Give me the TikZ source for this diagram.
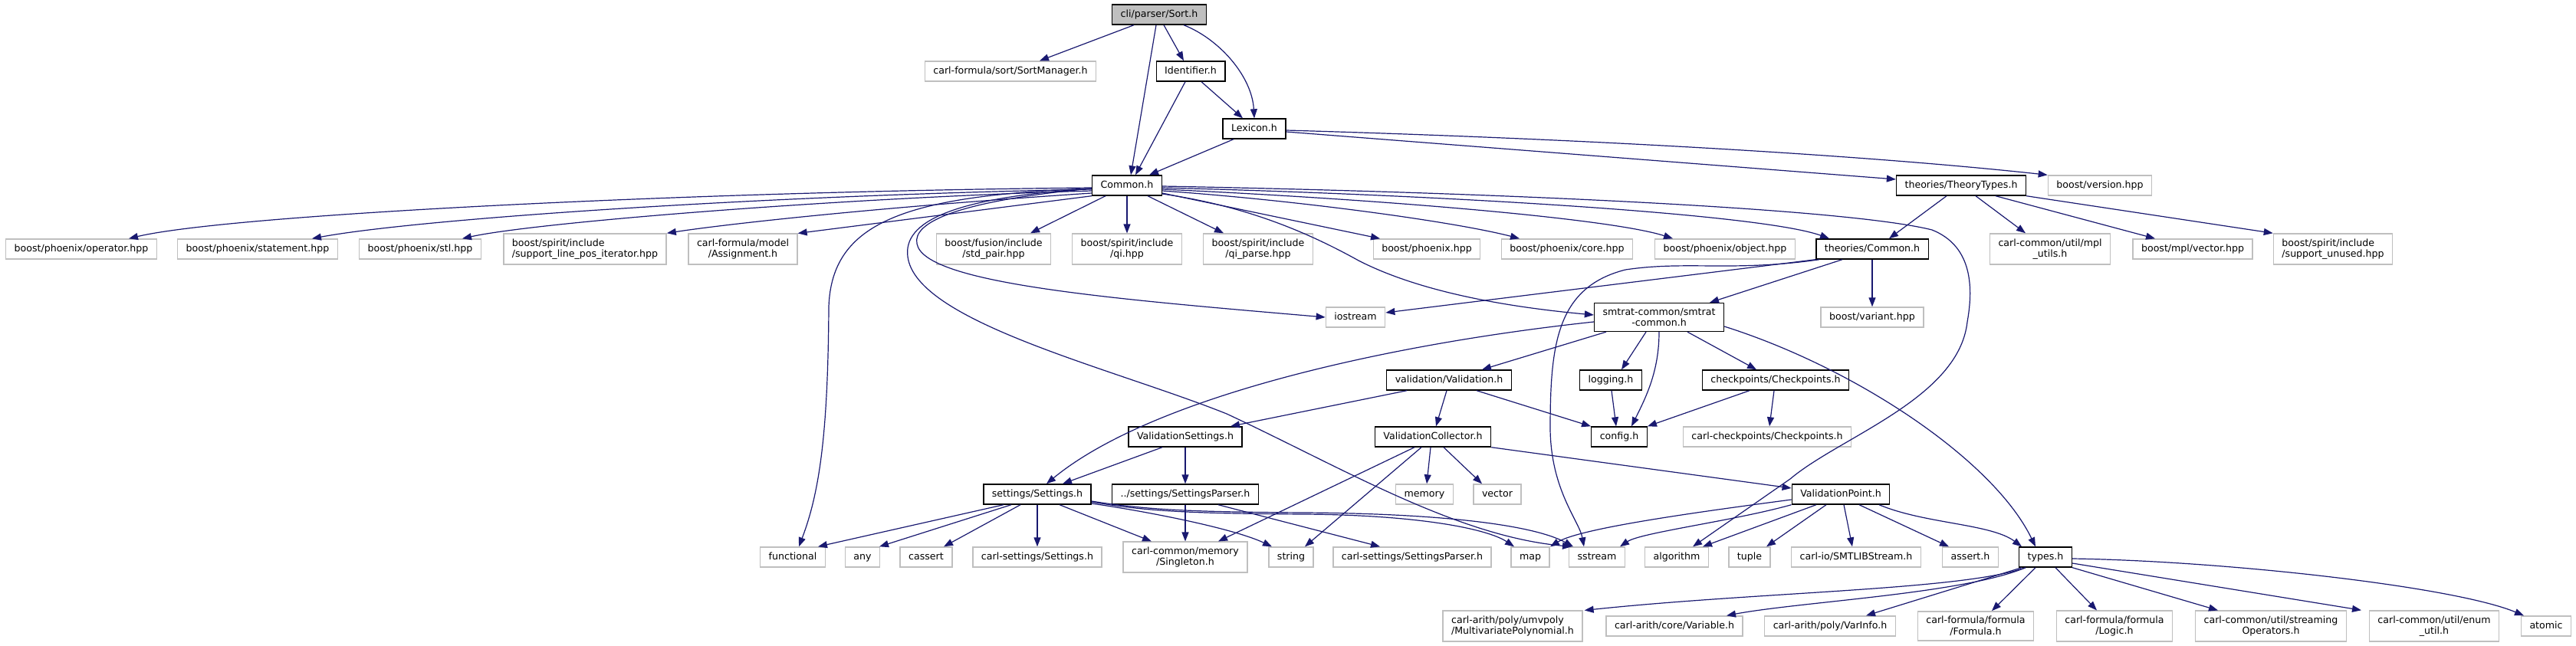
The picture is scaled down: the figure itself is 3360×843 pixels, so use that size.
\documentclass[tikz,border=0pt]{standalone}
\usepackage{fontspec}
\setmainfont{DejaVu Sans}
\usetikzlibrary{arrows.meta}
\definecolor{EdgeBlue}{RGB}{25,25,112}
\definecolor{ExtGrey}{RGB}{191,191,191}
\definecolor{RootGrey}{RGB}{191,191,191}
\tikzset{
  >={Triangle[length=12pt,width=9pt]},
  % header boxes
  hfile/.style={rectangle,fill=white,font=\fontsize{12.6}{14.5}\selectfont,inner xsep=11pt,inner ysep=6.5pt,
    text height=9.4pt,text depth=2.8pt,minimum height=26pt,line width=1.4pt},
  hlocal/.style={hfile,draw=black},
  hext/.style={hfile,draw=ExtGrey},
  hroot/.style={hlocal,fill=RootGrey},
  two/.style={text height={},text depth={},align=center},
  twoleft/.style={two,align=left},
  % include edges
  incl/.style={->,line width=1.2pt,EdgeBlue}
}
\begin{document}
\begin{tikzpicture}[x=1pt,y=-1pt]
    \useasboundingbox (0,0) rectangle (3360,843);
    % top part
    \node[hroot] (S) at (1512,19) {cli/parser/Sort.h};
    \node[hext] (SM) at (1318,93) {carl-formula/sort/SortManager.h};
    \node[hlocal] (Id) at (1553,93) {Identifier.h};
    \node[hlocal] (Lex) at (1636,168) {Lexicon.h};
    \node[hlocal] (Com) at (1470,242) {Common.h};
    \node[hlocal] (TT) at (2558,242) {theories/TheoryTypes.h};
    \node[hext] (BV) at (2739,242) {boost/version.hpp};
    % second row
    \node[hext] (PhOp) at (106,325) {boost/phoenix/operator.hpp};
    \node[hext] (PhSt) at (336,325) {boost/phoenix/statement.hpp};
    \node[hext] (PhStl) at (548,325) {boost/phoenix/stl.hpp};
    \node[hext,twoleft] (SpLine) at (763,325) {boost/spirit/include\\/support\_line\_pos\_iterator.hpp};
    \node[hext,two] (Asgn) at (969,325) {carl-formula/model\\/Assignment.h};
    \node[hext,two] (FuPair) at (1296,325) {boost/fusion/include\\/std\_pair.hpp};
    \node[hext,two] (Qi) at (1470,325) {boost/spirit/include\\/qi.hpp};
    \node[hext,two] (QiParse) at (1641,325) {boost/spirit/include\\/qi\_parse.hpp};
    \node[hext] (Ph) at (1861,325) {boost/phoenix.hpp};
    \node[hext] (PhCore) at (2044,325) {boost/phoenix/core.hpp};
    \node[hext] (PhObj) at (2250,325) {boost/phoenix/object.hpp};
    \node[hlocal] (TC) at (2442,325) {theories/Common.h};
    \node[hext,two] (Mpl) at (2674,325) {carl-common/util/mpl\\\_utils.h};
    \node[hext] (MplVec) at (2860,325) {boost/mpl/vector.hpp};
    \node[hext,twoleft] (SpUnused) at (3043,325) {boost/spirit/include\\/support\_unused.hpp};
    % middle
    \node[hext] (Ios) at (1768,414) {iostream};
    \node[hlocal,two] (SC) at (2164,414) {smtrat-common/smtrat\\-common.h};
    \node[hext] (Var) at (2442,414) {boost/variant.hpp};
    \node[hlocal] (Val) at (1890,496) {validation/Validation.h};
    \node[hlocal] (Log) at (2101,496) {logging.h};
    \node[hlocal] (Chk) at (2316,496) {checkpoints/Checkpoints.h};
    \node[hlocal] (VS) at (1546,570) {ValidationSettings.h};
    \node[hlocal] (VC) at (1869,570) {ValidationCollector.h};
    \node[hlocal] (Cfg) at (2112,570) {config.h};
    \node[hext] (CChk) at (2305,570) {carl-checkpoints/Checkpoints.h};
    \node[hlocal] (St) at (1353,645) {settings/Settings.h};
    \node[hlocal] (SP) at (1546,645) {../settings/SettingsParser.h};
    \node[hext] (Mem) at (1858,645) {memory};
    \node[hext] (Vec) at (1953,645) {vector};
    \node[hlocal] (VP) at (2401,645) {ValidationPoint.h};
    % lower rows
    \node[hext] (Fun) at (1034,727) {functional};
    \node[hext] (Any) at (1125,727) {any};
    \node[hext] (Cas) at (1208,727) {cassert};
    \node[hext] (CSet) at (1353,727) {carl-settings/Settings.h};
    \node[hext,two] (Sgl) at (1546,727) {carl-common/memory\\/Singleton.h};
    \node[hext] (Str) at (1684,727) {string};
    \node[hext] (CSP) at (1842,727) {carl-settings/SettingsParser.h};
    \node[hext] (Map) at (1996,727) {map};
    \node[hext] (SStr) at (2083,727) {sstream};
    \node[hext] (Alg) at (2187,727) {algorithm};
    \node[hext] (Tup) at (2282,727) {tuple};
    \node[hext] (Smt) at (2421,727) {carl-io/SMTLIBStream.h};
    \node[hext] (Ash) at (2570,727) {assert.h};
    \node[hlocal] (Ty) at (2668,727) {types.h};
    \node[hext,twoleft] (MP) at (1973,817) {carl-arith/poly/umvpoly\\/MultivariatePolynomial.h};
    \node[hext] (CVar) at (2184,817) {carl-arith/core/Variable.h};
    \node[hext] (VI) at (2387,817) {carl-arith/poly/VarInfo.h};
    \node[hext,two] (Frm) at (2577,817) {carl-formula/formula\\/Formula.h};
    \node[hext,two] (Lgc) at (2758,817) {carl-formula/formula\\/Logic.h};
    \node[hext,two] (SOp) at (2962,817) {carl-common/util/streaming\\Operators.h};
    \node[hext,two] (Enum) at (3175,817) {carl-common/util/enum\\\_util.h};
    \node[hext] (Atm) at (3321,817) {atomic};
    % Sort.h, Identifier.h, Lexicon.h
    \draw[incl] ([xshift=-33]S.south) -- ([xshift=38]SM.north);
    \draw[incl] ([xshift=-4]S.south) -- ([xshift=5]Com.north);
    \draw[incl] ([xshift=6]S.south) -- ([xshift=-9]Id.north);
    \draw[incl] ([xshift=32]S.south) .. controls +(46,18) and +(-3,-55) .. (Lex.north);
    \draw[incl] ([xshift=-7]Id.south) -- ([xshift=11]Com.north);
    \draw[incl] ([xshift=14]Id.south) -- ([xshift=-15]Lex.north);
    \draw[incl] ([xshift=-27]Lex.south) -- ([xshift=29]Com.north);
    \draw[incl] ([yshift=-4]Lex.east) -- ([yshift=8]TT.west);
    \draw[incl] ([yshift=-2]Lex.east) .. controls +(420,12) and +(-220,-24) .. (BV.north west);
    % Common.h, to the left
    \draw[incl] ([yshift=-3]Com.west) .. controls (900,250) and (300,280) .. ([xshift=62]PhOp.north);
    \draw[incl] ([yshift=-5]Com.west) .. controls (1000,255) and (550,285) .. ([xshift=71]PhSt.north);
    \draw[incl] ([yshift=-7]Com.west) .. controls (1100,258) and (700,290) .. ([xshift=55]PhStl.north);
    \draw[incl] ([yshift=-10]Com.west) .. controls (1150,270) and (950,292) .. (SpLine.north east);
    \draw[incl] (Com.south west) -- (Asgn.north east);
    \draw[incl] ([yshift=-4]Com.west) .. controls (1180,255) and (1085,290) .. (1081,400)
      .. controls (1080,560) and (1070,640) .. ([xshift=8]Fun.north);
    \draw[incl] ([yshift=-4]Com.west) .. controls (1250,262) and (1190,290) .. (1196,318)
      .. controls (1205,370) and (1450,390) .. (Ios.west);
    \draw[incl] ([yshift=-4]Com.west) .. controls (1240,258) and (1178,290) .. (1184,335)
      .. controls (1195,420) and (1450,480) .. (1600,540)
      .. controls (1750,610) and (1900,700) .. ([xshift=-33]SStr.north);
    % Common.h, downwards and to the right
    \draw[incl] ([xshift=-28]Com.south) -- ([xshift=48]FuPair.north);
    \draw[incl] (Com.south) -- (Qi.north);
    \draw[incl] ([xshift=27]Com.south) -- ([xshift=-45]QiParse.north);
    \draw[incl] ([yshift=-10]Com.east) -- ([xshift=-61]Ph.north);
    \draw[incl] ([yshift=-7]Com.east) .. controls (1700,262) and (1900,290) .. ([xshift=-62]PhCore.north);
    \draw[incl] ([yshift=-5]Com.east) .. controls (1800,260) and (2100,285) .. ([xshift=-68]PhObj.north);
    \draw[incl] ([yshift=-3]Com.east) .. controls (1900,255) and (2300,280) .. ([xshift=-56]TC.north);
    \draw[incl] ([yshift=-1]Com.east) .. controls (1900,250) and (2400,270) .. (2520,300)
      .. controls (2570,320) and (2575,370) .. (2566,420)
      .. controls (2555,520) and (2400,570) .. (2335,625) -- ([xshift=21]Alg.north);
    \draw[incl] ([yshift=-11]Com.east) .. controls (1620,268) and (1700,300) .. (1772,340)
      .. controls (1850,380) and (1960,400) .. ([yshift=3]SC.west);
    % theories
    \draw[incl] ([xshift=-19]TT.south) -- ([xshift=22]TC.north);
    \draw[incl] ([xshift=19]TT.south) -- ([xshift=-32]Mpl.north);
    \draw[incl] ([xshift=45]TT.south) -- ([xshift=-49]MplVec.north);
    \draw[incl] (TT.south east) -- (SpUnused.north west);
    \draw[incl] (TC.south west) -- ([yshift=6]Ios.east);
    \draw[incl] ([xshift=-39]TC.south) -- ([xshift=66]SC.north);
    \draw[incl] (TC.south) -- (Var.north);
    \draw[incl] ([xshift=5]TC.south west) .. controls (2260,355) and (2200,340) .. (2120,352)
      .. controls (2030,375) and (2022,450) .. (2022,560)
      .. controls (2023,640) and (2060,680) .. ([xshift=-17]SStr.north);
    % smtrat-common
    \draw[incl] ([yshift=-6]SC.west) .. controls (1800,450) and (1500,520) .. ([xshift=12]St.north);
    \draw[incl] ([xshift=-69]SC.south) -- ([xshift=43]Val.north);
    \draw[incl] ([xshift=-17]SC.south) -- ([xshift=14]Log.north);
    \draw[incl] (SC.south) .. controls +(0,50) and +(20,-40) .. ([xshift=16]Cfg.north);
    \draw[incl] ([xshift=37]SC.south) -- ([xshift=-25]Chk.north);
    \draw[incl] ([yshift=-12]SC.east) .. controls (2420,480) and (2600,600) .. ([xshift=-13]Ty.north);
    % validation
    \draw[incl] ([xshift=-55]Val.south) -- ([xshift=59]VS.north);
    \draw[incl] ([xshift=-3]Val.south) -- ([xshift=4]VC.north);
    \draw[incl] ([xshift=36]Val.south) -- (Cfg.north west);
    \draw[incl] ([xshift=1]Log.south) -- ([xshift=-4]Cfg.north);
    \draw[incl] ([xshift=-34]Chk.south) -- (Cfg.north east);
    \draw[incl] ([xshift=-2]Chk.south) -- ([xshift=3]CChk.north);
    \draw[incl] ([xshift=-30]VS.south) -- ([xshift=33]St.north);
    \draw[incl] (VS.south) -- (SP.north);
    \draw[incl] ([xshift=-24]VC.south) -- ([xshift=43]Sgl.north);
    \draw[incl] ([xshift=-15]VC.south) -- ([xshift=18]Str.north);
    \draw[incl] ([xshift=-3]VC.south) -- ([xshift=3]Mem.north);
    \draw[incl] ([xshift=14]VC.south) -- ([xshift=-20]Vec.north);
    \draw[incl] (VC.south east) -- ([yshift=8]VP.west);
    % settings
    \draw[incl] ([xshift=-44]St.south) -- ([xshift=33]Fun.north);
    \draw[incl] ([xshift=-34]St.south) -- ([xshift=22]Any.north);
    \draw[incl] ([xshift=-22]St.south) -- ([xshift=23]Cas.north);
    \draw[incl] (St.south) -- (CSet.north);
    \draw[incl] ([xshift=29]St.south) -- ([xshift=-44]Sgl.north);
    \draw[incl] ([yshift=-12]St.east) .. controls (1500,668) and (1610,690) .. ([xshift=-25]Str.north);
    \draw[incl] ([yshift=-10]St.east) .. controls (1500,668) and (1560,670) .. (1700,671)
      .. controls (1850,672) and (1940,690) .. ([xshift=-21]Map.north);
    \draw[incl] ([yshift=-9]St.east) .. controls (1500,666) and (1560,668) .. (1700,669)
      .. controls (1880,670) and (2000,685) .. ([xshift=-31]SStr.north);
    \draw[incl] (SP.south) -- (Sgl.north);
    \draw[incl] ([xshift=43]SP.south) -- ([xshift=-42]CSP.north);
    % ValidationPoint.h
    \draw[incl] ([yshift=-7]VP.west) .. controls (2200,670) and (2060,690) .. ([xshift=26]Map.north);
    \draw[incl] (VP.south west) .. controls (2260,680) and (2140,695) .. ([xshift=30]SStr.north);
    \draw[incl] ([xshift=-32]VP.south) -- ([xshift=34]Alg.north);
    \draw[incl] ([xshift=-19]VP.south) -- ([xshift=22]Tup.north);
    \draw[incl] ([xshift=4]VP.south) -- ([xshift=-5]Smt.north);
    \draw[incl] ([xshift=24]VP.south) -- ([xshift=-28]Ash.north);
    \draw[incl] ([xshift=50]VP.south) .. controls +(60,25) and +(-40,-30) .. ([xshift=-31]Ty.north);
    % types.h
    \draw[incl] ([xshift=-26]Ty.south) .. controls (2560,770) and (2300,772) .. ([xshift=2]MP.north east);
    \draw[incl] ([xshift=-26]Ty.south) .. controls (2560,775) and (2350,785) .. ([xshift=68]CVar.north);
    \draw[incl] ([xshift=-31]Ty.south) -- ([xshift=47]VI.north);
    \draw[incl] ([xshift=-13]Ty.south) -- ([xshift=21]Frm.north);
    \draw[incl] ([xshift=13]Ty.south) -- ([xshift=-23]Lgc.north);
    \draw[incl] (Ty.south east) -- ([xshift=-69]SOp.north);
    \draw[incl] ([yshift=-8]Ty.east) -- ([xshift=-95]Enum.north);
    \draw[incl] ([yshift=-2]Ty.east) .. controls (2900,732) and (3200,765) .. ([xshift=-29]Atm.north);
\end{tikzpicture}
\end{document}
